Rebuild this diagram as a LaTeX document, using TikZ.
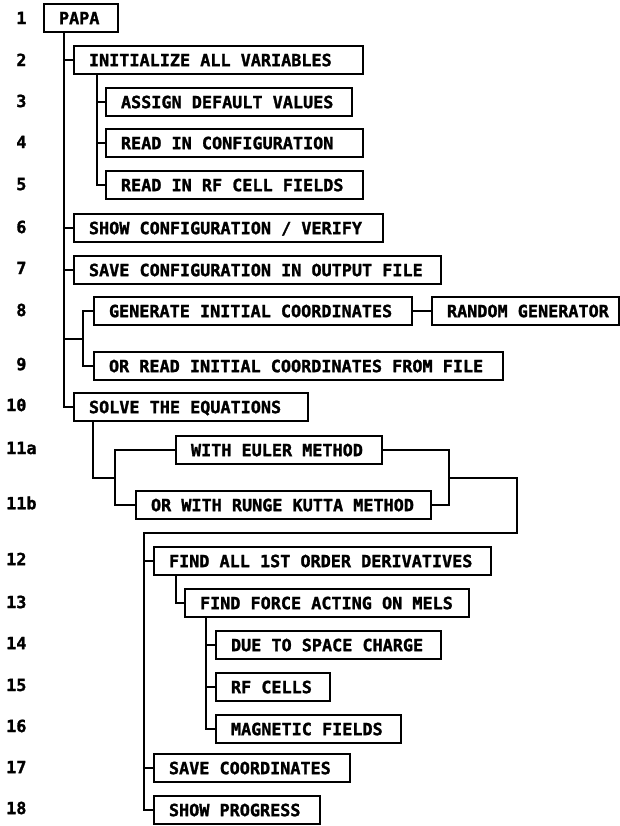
\documentclass[tikz,border=0pt]{standalone}
\usepackage{fontspec}
\newfontfamily\progfont{DejaVu Sans Mono}[BoldFeatures={FakeBold=1.5}]
\usetikzlibrary{calc}

\tikzset{
  prog/.style={draw,line width=2pt,anchor=west,minimum height=28pt,
               inner xsep=15pt,inner ysep=0pt,
               text height=12.3pt,text depth=0pt,
               execute at begin node={\hbox to #1pt\bgroup},
               execute at end node={\hss\egroup}},
  wire/.style={line width=2pt}
}

\begin{document}
\begin{tikzpicture}[x=1pt,y=-1pt,
    font={\progfont\bfseries\fontsize{16.8}{18}\selectfont\spaceskip=0.602em\relax}]
\path[use as bounding box] (0,0) rectangle (620,826);
\foreach \y/\lab [count=\i] in {18/\phantom{0}1,60/\phantom{0}2,101/\phantom{0}3,
    142/\phantom{0}4,184/\phantom{0}5,227/\phantom{0}6,268/\phantom{0}7,
    310/\phantom{0}8,364/\phantom{0}9,405/10,448/11a,503/11b,559/12,602/13,
    643/14,685/15,726/16,767/17,808/18} {
  \node[anchor=west,inner sep=0pt] (n\i) at (6,\y) {\lab};
}
\node[prog=44] (papa) at (43,18) {PAPA};
\node[prog=259] (init) at (73,60) {INITIALIZE ALL VARIABLES};
\node[prog=216] (assign) at (105,102) {ASSIGN DEFAULT VALUES};
\node[prog=227] (readcfg) at (105,143) {READ IN CONFIGURATION};
\node[prog=227] (readrf) at (105,185) {READ IN RF CELL FIELDS};
\node[prog=279] (show) at (73,228) {SHOW CONFIGURATION / VERIFY};
\node[prog=337] (savecfg) at (73,270) {SAVE CONFIGURATION IN OUTPUT FILE};
\node[prog=288] (gen) at (93,311) {GENERATE INITIAL COORDINATES};
\node[prog=157] (random) at (431,311) {RANDOM GENERATOR};
\node[prog=379] (readinit) at (93,366) {OR READ INITIAL COORDINATES FROM FILE};
\node[prog=204] (solve) at (73,407) {SOLVE THE EQUATIONS};
\node[prog=176] (euler) at (175,450) {WITH EULER METHOD};
\node[prog=265] (runge) at (135,505) {OR WITH RUNGE KUTTA METHOD};
\node[prog=307] (deriv) at (153,561) {FIND ALL 1ST ORDER DERIVATIVES};
\node[prog=254] (force) at (184,603) {FIND FORCE ACTING ON MELS};
\node[prog=195] (spacech) at (215,645) {DUE TO SPACE CHARGE};
\node[prog=84] (rfcells) at (215,687) {RF CELLS};
\node[prog=155] (magnet) at (215,729) {MAGNETIC FIELDS};
\node[prog=166] (savecoord) at (153,768) {SAVE COORDINATES};
\node[prog=136] (progress) at (153,810) {SHOW PROGRESS};

\coordinate (sp) at (64,0);
\draw[wire] (papa.south -| sp) -- (sp |- solve.west) -- (solve.west);
\foreach \b in {init,show,savecfg} {
  \draw[wire] (sp |- \b.west) -- (\b.west);
}
\coordinate (br) at (83,0);
\coordinate (genmid) at ($(gen.west)!.5!(readinit.west)$);
\draw[wire] (gen.west) -- (br |- gen.west) -- (br |- readinit.west) -- (readinit.west);
\draw[wire] (sp |- genmid) -- (br |- genmid);
\draw[wire] (gen.east) -- (random.west);

\coordinate (c2) at (97,0);
\draw[wire] (init.south -| c2) -- (c2 |- readrf.west) -- (readrf.west);
\foreach \b in {assign,readcfg} {
  \draw[wire] (c2 |- \b.west) -- (\b.west);
}

\coordinate (c10) at (93,0);
\coordinate (c11) at (115,0);
\coordinate (solvemid) at ($(euler.west)!.5!(runge.west)$);
\draw[wire] (solve.south -| c10) -- (c10 |- solvemid) -- (c11 |- solvemid);
\draw[wire] (euler.west) -- (c11 |- euler.west) -- (c11 |- runge.west) -- (runge.west);

\coordinate (m1) at (449,0);
\coordinate (m2) at (517,0);
\coordinate (m3) at (144,533);
\draw[wire] (euler.east) -- (m1 |- euler.east) -- (m1 |- runge.east) -- (runge.east);
\draw[wire] (m1 |- solvemid) -- (m2 |- solvemid) -- (m2 |- m3) -- (m3)
  -- (m3 |- progress.west) -- (progress.west);
\foreach \b in {deriv,savecoord} {
  \draw[wire] (m3 |- \b.west) -- (\b.west);
}

\coordinate (c12) at (176,0);
\draw[wire] (deriv.south -| c12) -- (c12 |- force.west) -- (force.west);
\coordinate (c13) at (206,0);
\draw[wire] (force.south -| c13) -- (c13 |- magnet.west) -- (magnet.west);
\foreach \b in {spacech,rfcells} {
  \draw[wire] (c13 |- \b.west) -- (\b.west);
}
\end{tikzpicture}
\end{document}
